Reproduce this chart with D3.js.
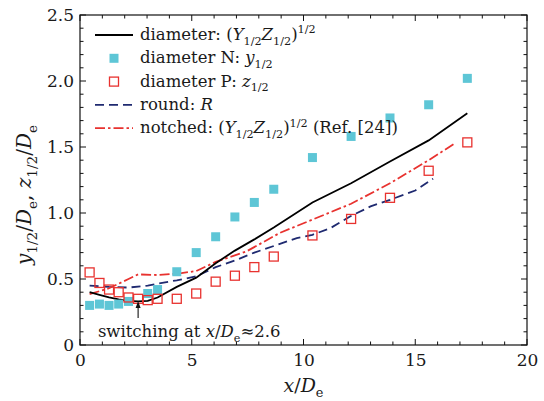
<!DOCTYPE html>
<html><head><meta charset="utf-8">
<script src="https://cdn.jsdelivr.net/npm/d3@7"></script>
<style>
body{margin:0;background:#fff}
svg{display:block}
text{fill:#1a1a1a}
</style>
</head><body><div id="chart"></div>
<script>
// Half-width positions along the jet axis
const xN = [0.43,0.87,1.30,1.73,2.17,3.03,3.47,4.33,5.20,6.07,6.93,7.80,8.67,10.40,12.13,13.87,15.60,17.33];
const yN = [0.30,0.31,0.30,0.31,0.33,0.39,0.42,0.555,0.70,0.82,0.97,1.08,1.18,1.42,1.58,1.72,1.82,2.02];

const xP = [0.43,0.87,1.30,1.73,2.17,2.60,3.03,3.47,4.33,5.20,6.07,6.93,7.80,8.67,10.40,12.13,13.87,15.60,17.33];
const zP = [0.55,0.47,0.42,0.40,0.36,0.35,0.34,0.35,0.35,0.39,0.48,0.525,0.59,0.67,0.83,0.955,1.115,1.32,1.535];

const xD = [0.43,0.87,1.30,1.73,2.17,2.60,3.03,3.47,4.33,5.20,6.07,6.93,7.80,8.67,10.40,12.13,13.87,15.60,17.33];
const yD = [0.40,0.38,0.36,0.345,0.335,0.33,0.335,0.36,0.44,0.51,0.62,0.715,0.80,0.89,1.08,1.225,1.39,1.55,1.755];

const xR = [0.43,1.30,2.17,3.03,3.47,4.33,5.20,6.07,6.93,7.80,8.67,9.70,10.40,11.20,12.10,13.00,13.87,15.00,15.80];
const yR = [0.45,0.44,0.435,0.45,0.465,0.49,0.52,0.59,0.64,0.70,0.75,0.81,0.835,0.885,0.975,1.05,1.10,1.17,1.26];

const xT = [0.43,1.30,2.17,2.60,3.47,4.33,5.20,6.07,7.46,8.95,10.40,12.13,13.87,15.60,16.80];
const yT = [0.385,0.43,0.50,0.535,0.53,0.54,0.56,0.63,0.71,0.85,0.95,1.07,1.225,1.40,1.53];

const xTicks = [0,5,10,15,20];
const yTicks = [0,0.5,1.0,1.5,2.0,2.5];
const yTickLabels = ["0","0.5","1.0","1.5","2.0","2.5"];

const W = 544, H = 401;
const m = {left:80, top:15, right:17, bottom:56};
const pw = W - m.left - m.right, ph = H - m.top - m.bottom;

const cCyan = "#5ec6d6", cRed = "#e8322f", cNavy = "#1f2a70";
const FONT = '"DejaVu Serif","Liberation Serif","Noto Serif","FreeSerif","Nimbus Roman","Times New Roman",Times,serif';

const svg = d3.select("#chart").append("svg").attr("width", W).attr("height", H)
  .style("font-family", FONT);
const g = svg.append("g").attr("transform", `translate(${m.left},${m.top})`);

const x = d3.scaleLinear().domain([0,20]).range([0,pw]);
const y = d3.scaleLinear().domain([0,2.5]).range([ph,0]);

// Text with italic symbols, subscripts and superscripts
function rich(sel, parts, size){
  let cur = 0;
  sel.style("font-family", FONT);
  parts.forEach(p => {
    const o = typeof p === "string" ? {t:p} : p;
    const shift = o.sub ? size*0.28 : o.sup ? -size*0.4 : 0;
    sel.append("tspan").text(o.t)
      .attr("dy", shift - cur)
      .style("font-size", (o.sub||o.sup) ? (size*0.68)+"px" : size+"px")
      .style("font-style", o.i ? "italic" : "normal");
    cur = shift;
  });
}

// Ticks on all four sides, pointing inward
function axisTicks(){
  const tg = g.append("g").attr("stroke","#111").attr("stroke-width",1);
  d3.range(0,21,1).forEach(v => {
    const len = v % 5 === 0 ? 6 : 3.5;
    tg.append("line").attr("x1",x(v)).attr("x2",x(v)).attr("y1",ph).attr("y2",ph-len);
    tg.append("line").attr("x1",x(v)).attr("x2",x(v)).attr("y1",0).attr("y2",len);
  });
  d3.range(0,26,1).forEach(k => {
    const v = k/10, len = k % 5 === 0 ? 6 : 3.5;
    tg.append("line").attr("y1",y(v)).attr("y2",y(v)).attr("x1",0).attr("x2",len);
    tg.append("line").attr("y1",y(v)).attr("y2",y(v)).attr("x1",pw).attr("x2",pw-len);
  });
}
axisTicks();

const styleTicks = s => {
  s.select(".domain").remove();
  s.attr("font-family", null);
  s.selectAll("text").style("font-size","17px").style("font-family",FONT).attr("fill","#1a1a1a");
};

const xAxis = d3.axisBottom(x).tickValues(xTicks).tickSize(0).tickPadding(9);
g.append("g").attr("transform",`translate(0,${ph})`).call(xAxis).call(styleTicks);

const yAxis = d3.axisLeft(y).tickValues(yTicks).tickFormat((d,i)=>yTickLabels[i]).tickSize(0).tickPadding(6);
g.append("g").call(yAxis).call(styleTicks);

// Curves
const line = d3.line().x(d=>x(d[0])).y(d=>y(d[1]));
g.append("path").datum(d3.zip(xR,yR)).attr("d",line).attr("fill","none")
  .attr("stroke",cNavy).attr("stroke-width",1.8).attr("stroke-dasharray","9,5");
g.append("path").datum(d3.zip(xT,yT)).attr("d",line).attr("fill","none")
  .attr("stroke",cRed).attr("stroke-width",1.8).attr("stroke-dasharray","10,3,2.5,3");
g.append("path").datum(d3.zip(xD,yD)).attr("d",line).attr("fill","none")
  .attr("stroke","#000").attr("stroke-width",1.8);

// Markers
const sN = 9, sP = 9;
g.selectAll(".n").data(d3.zip(xN,yN)).join("rect")
  .attr("x",d=>x(d[0])-sN/2).attr("y",d=>y(d[1])-sN/2).attr("width",sN).attr("height",sN)
  .attr("fill",cCyan);
g.selectAll(".p").data(d3.zip(xP,zP)).join("rect")
  .attr("x",d=>x(d[0])-sP/2).attr("y",d=>y(d[1])-sP/2).attr("width",sP).attr("height",sP)
  .attr("fill","none").attr("stroke",cRed).attr("stroke-width",1.3);

// Frame
g.append("rect").attr("width",pw).attr("height",ph).attr("fill","none").attr("stroke","#111").attr("stroke-width",1.2);

// Legend
const lg = g.append("g").attr("transform","translate(15,20)");
const rowH = 23.3, sx0 = 0, sx1 = 38, tx = 45, fs = 16.5;
const rows = [
  {type:"line", color:"#000", dash:null, text:["diameter: (",{t:"Y",i:1},{t:"1/2",sub:1},{t:"Z",i:1},{t:"1/2",sub:1},")",{t:"1/2",sup:1}]},
  {type:"fill", text:["diameter N: ",{t:"y",i:1},{t:"1/2",sub:1}]},
  {type:"open", text:["diameter P: ",{t:"z",i:1},{t:"1/2",sub:1}]},
  {type:"line", color:cNavy, dash:"9,5", text:["round: ",{t:"R",i:1}]},
  {type:"line", color:cRed, dash:"10,3,2.5,3", text:["notched: (",{t:"Y",i:1},{t:"1/2",sub:1},{t:"Z",i:1},{t:"1/2",sub:1},")",{t:"1/2",sup:1}," (Ref. [24])"]}
];
rows.forEach((r,i) => {
  const cy = i*rowH;
  if (r.type === "line") {
    lg.append("line").attr("x1",sx0).attr("x2",sx1).attr("y1",cy).attr("y2",cy)
      .attr("stroke",r.color).attr("stroke-width",1.8).attr("stroke-dasharray",r.dash);
  } else if (r.type === "fill") {
    lg.append("rect").attr("x",(sx0+sx1)/2-sN/2).attr("y",cy-sN/2).attr("width",sN).attr("height",sN).attr("fill",cCyan);
  } else {
    lg.append("rect").attr("x",(sx0+sx1)/2-sP/2).attr("y",cy-sP/2).attr("width",sP).attr("height",sP)
      .attr("fill","none").attr("stroke",cRed).attr("stroke-width",1.3);
  }
  const t = lg.append("text").attr("x",tx).attr("y",cy+5);
  rich(t, r.text, fs);
});

// Annotation for the switching point
const xs = 2.6;
const ann = g.append("text").attr("x",x(0.8)).attr("y",ph-8);
rich(ann, ["switching at ",{t:"x",i:1},"/",{t:"D",i:1},{t:"e",sub:1},"≈2.6"], 16.5);
g.append("line").attr("x1",x(xs)).attr("x2",x(xs)).attr("y1",ph-27).attr("y2",ph-41)
  .attr("stroke","#111").attr("stroke-width",1.1);
g.append("path").attr("d",`M${x(xs)},${ph-44} l-2.5,7 l5,0 z`).attr("fill","#111");

// Axis titles
const xt = svg.append("text").attr("x", m.left+pw/2).attr("y", 392).attr("text-anchor","middle");
rich(xt, [{t:"x",i:1},"/",{t:"D",i:1},{t:"e",sub:1}], 19);

const yt = svg.append("text").attr("transform","translate(31,195) rotate(-90)").attr("text-anchor","middle");
rich(yt, [{t:"y",i:1},{t:"1/2",sub:1},"/",{t:"D",i:1},{t:"e",sub:1},", ",{t:"z",i:1},{t:"1/2",sub:1},"/",{t:"D",i:1},{t:"e",sub:1}], 20);
</script></body></html>
